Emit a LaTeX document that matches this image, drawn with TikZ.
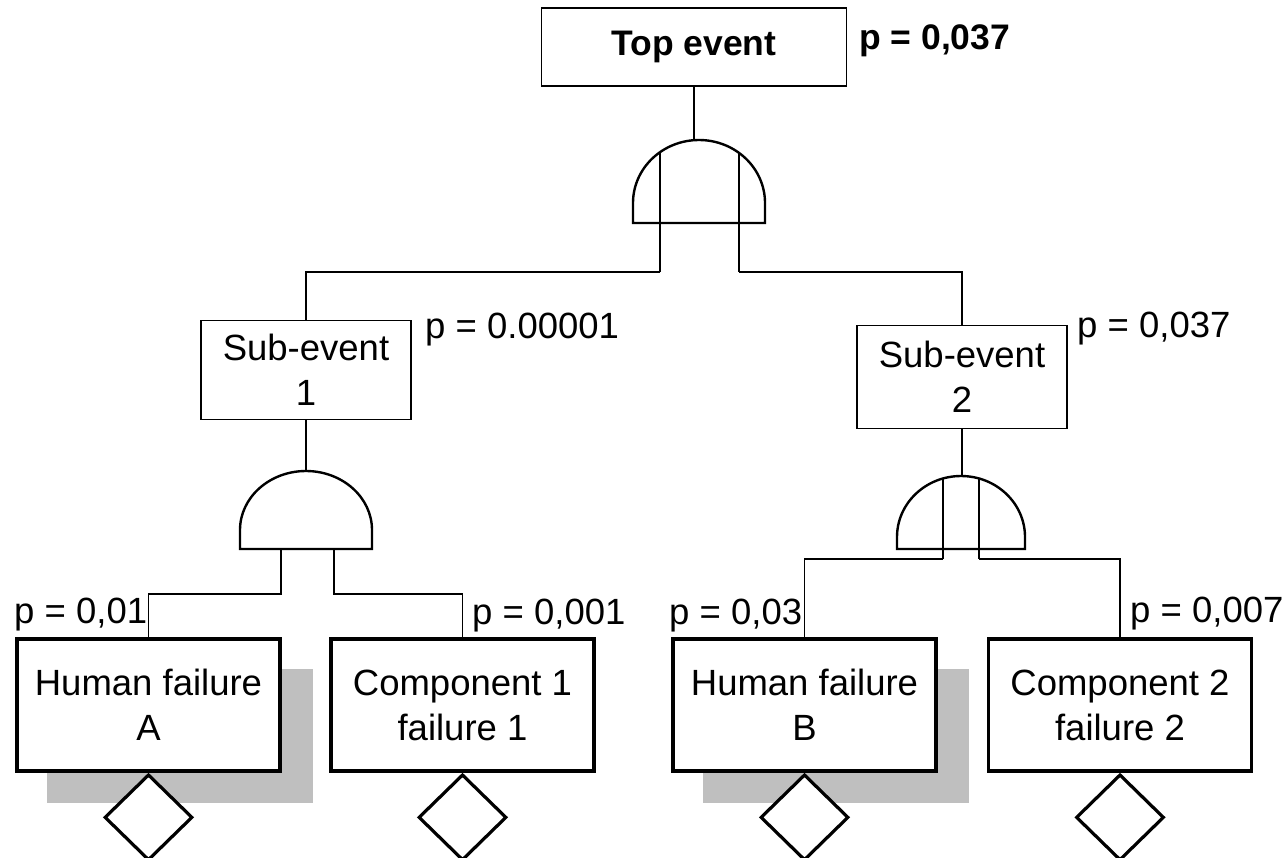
\documentclass[tikz,border=0pt]{standalone}
\usepackage{fontspec}
\setmainfont{Liberation Sans}
\usetikzlibrary{shapes.geometric}
\begin{document}
\begin{tikzpicture}[x=1pt,y=-1pt,
  txt/.style={font=\fontsize{36.5}{45}\selectfont},
  bold/.style={font=\fontsize{35.5}{42}\selectfont\bfseries},
  thinbox/.style={draw, line width=1.1pt, fill=white, inner sep=0pt, align=center, txt},
  basicbox/.style={draw, line width=3.5pt, fill=white, inner sep=0pt, align=center, txt,
    minimum width=263pt, minimum height=132pt},
  undev/.style={draw, diamond, line width=3.2pt, fill=white, inner sep=0pt, aspect=1,
    minimum width=88pt, minimum height=86pt, anchor=north},
  gate/.style={draw, line width=2.4pt, fill=white, line join=miter},
  conn/.style={draw, line width=1.8pt},
  plab/.style={anchor=base west, inner sep=0pt, txt},
  shadow/.style={fill=black!25, draw=none}
]
\useasboundingbox (0,0) rectangle (1287,857);

% shadows
\fill[shadow] (47,669) rectangle (313,803);
\fill[shadow] (703,669) rectangle (969,803);

% boxes
\node[thinbox, bold, minimum width=305pt, minimum height=78pt] (top) at (694,47) {Top event};
\node[thinbox, minimum width=210pt, minimum height=99pt] (sub1) at (306,370) {Sub-event\\1};
\node[thinbox, minimum width=210pt, minimum height=103pt] (sub2) at (962,377) {Sub-event\\2};

% gate coordinates
\coordinate (g1top) at (697,140);
\coordinate (g1a) at (660,153);
\coordinate (g1b) at (739,153);
\coordinate (j1a) at (660,272);
\coordinate (j1b) at (739,272);

\coordinate (g2top) at (306,471);
\coordinate (g2a) at (281,549);
\coordinate (g2b) at (334,549);
\coordinate (j2a) at (281,594);
\coordinate (j2b) at (334,594);

\coordinate (g3top) at (961,476);
\coordinate (g3a) at (943,479);
\coordinate (g3b) at (979,479);
\coordinate (j3a) at (943,559);
\coordinate (j3b) at (979,559);

% bottom basic events
\node[basicbox] (hA) at (148.5,705) {Human failure\\A};
\node[basicbox] (c1) at (462.5,705) {Component 1\\failure 1};
\node[basicbox] (hB) at (804.5,705) {Human failure\\B};
\node[basicbox] (c2) at (1120,705) {Component 2\\failure 2};

% connectors
\draw[conn] (top.south) -- (top.south |- g1top);
\draw[conn] (j1a) -| (sub1.north);
\draw[conn] (j1b) -| (sub2.north);
\draw[conn] (sub1.south) -- (sub1.south |- g2top);
\draw[conn] (sub2.south) -- (sub2.south |- g3top);
\draw[conn] (g2a) -- (j2a) -| (hA.north);
\draw[conn] (g2b) -- (j2b) -| (c1.north);
\draw[conn] (j3a) -| (hB.north);
\draw[conn] (j3b) -| (c2.north);

% gates
\path[gate] (633,223) -- (633,203) arc[start angle=180,end angle=360,x radius=66,y radius=63] -- (765,223) -- cycle;
\draw[line width=2.2pt] (g1a) -- (j1a);
\draw[line width=2.2pt] (g1b) -- (j1b);

\path[gate] (240,549) -- (240,530) arc[start angle=180,end angle=360,x radius=66,y radius=59] -- (372,549) -- cycle;

\path[gate] (897,549) -- (897,537) arc[start angle=180,end angle=360,x radius=64,y radius=61] -- (1025,549) -- cycle;
\draw[line width=2.2pt] (g3a) -- (j3a);
\draw[line width=2.2pt] (g3b) -- (j3b);

% undeveloped diamonds
\node[undev] (dA) at (hA.south) {};
\node[undev] (d1) at (c1.south) {};
\node[undev] (dB) at (hB.south) {};
\node[undev] (d2) at (c2.south) {};

% probability labels
\node[plab, bold] (pt) at (859,49) {p = 0,037};
\node[plab] (p1) at (425,338) {p = 0.00001};
\node[plab] (p2) at (1077,337) {p = 0,037};
\node[plab] (pA) at (14,623) {p = 0,01};
\node[plab] (pC1) at (472,624) {p = 0,001};
\node[plab] (pB) at (669,624) {p = 0,03};
\node[plab] (pC2) at (1130,622) {p = 0,007};
\end{tikzpicture}
\end{document}
